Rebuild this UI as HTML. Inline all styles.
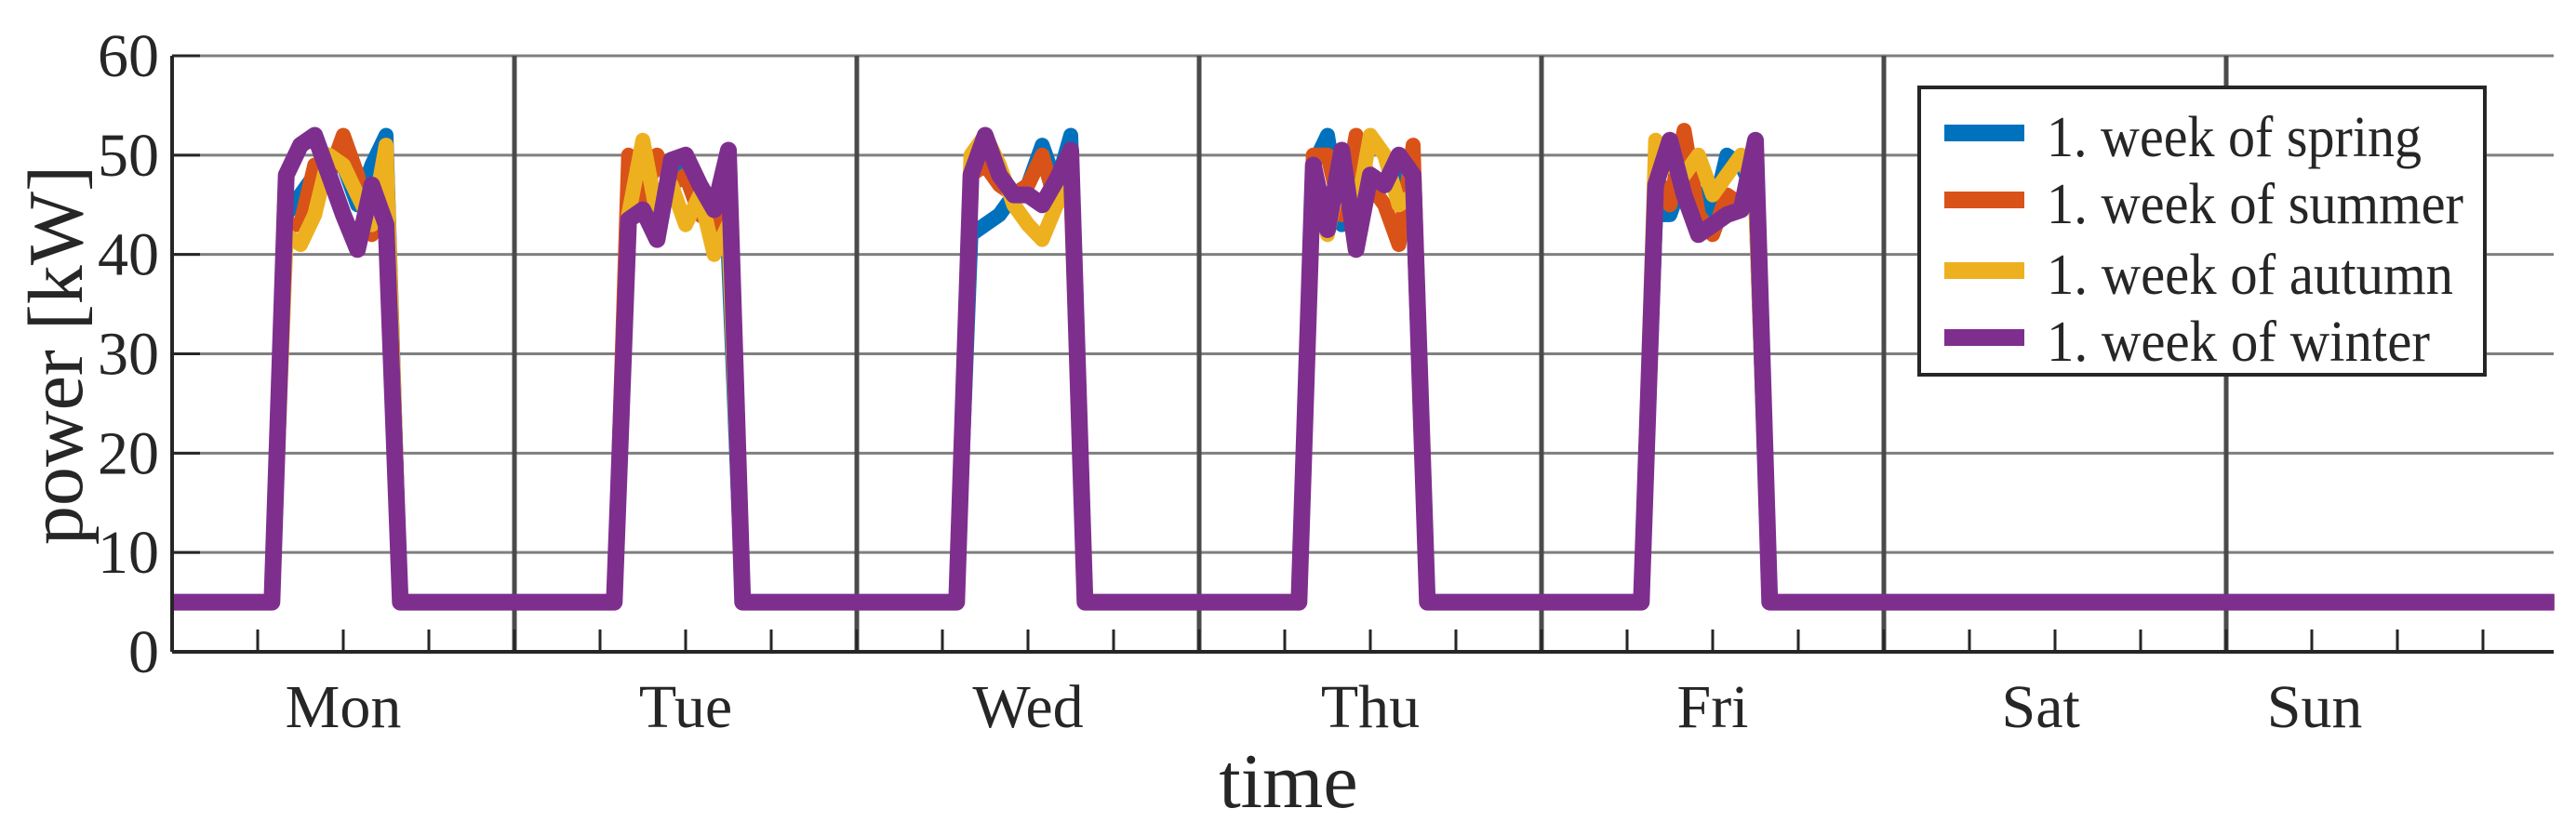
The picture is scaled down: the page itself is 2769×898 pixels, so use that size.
<!DOCTYPE html>
<html><head><meta charset="utf-8"><style>
html,body{margin:0;padding:0;background:#fff;}
svg{display:block;font-family:"Liberation Serif",serif;}
</style></head><body>
<svg id="chart" width="2769" height="898" viewBox="0 0 2769 898" xmlns="http://www.w3.org/2000/svg">
<g id="grid"></g>
<g id="series"></g>
<g id="axes"></g>
<g id="legend"></g>
</svg>
<script>
// ---- data ----
const days = ["Mon","Tue","Wed","Thu","Fri","Sat","Sun"];
const dayLabelHours = [12,36,60,84,108,131,150.2];
const yTicks = [0,10,20,30,40,50,60];
const baseLoad = 5;
const workHours = [8,9,10,11,12,13,14,15];
const springWork = [
 [44,46,48,50,49,45,49,52],
 [44,45,44,48,50,47,44,40],
 [42,43,44,46,47,51,47,52],
 [49,52,43,48,46,47,49,45],
 [44,44,48,46,44,50,49,46]];
const summerWork = [
 [43,43,49,48,52,48,42,51],
 [50,45,50,47,48,44,43,44],
 [48,49,47,46,47,50,45,48],
 [50,50,44,52,47,45,41,51],
 [48,45,52.5,44,42,46,45,47]];
const autumnWork = [
 [42,41,44,50,49,46,43,51],
 [44,51.5,44,47,43,46,40,43],
 [50,52,49,45,43,41.5,45,47],
 [48,42,49,44,52,50,45,46],
 [51.5,49,48,50,46,48,50,46]];
const winterWork = [
 [48,51,52,48,44,40.5,47,43],
 [43.5,44.5,41.5,49.5,50,47,44.5,50.5],
 [48,52,48,46,46,45,47.5,50.5],
 [49,42.5,50.5,40.5,48,47,50,48],
 [47,51.5,46,42,43,44,44.5,51.5]];
const seriesNames = ["1. week of spring","1. week of summer","1. week of autumn","1. week of winter"];
const seriesColors = ["#0072BD","#D95319","#EDB120","#7E2F8E"];
const seriesWork = [springWork, summerWork, autumnWork, winterWork];
const xMaxHour = 167;

// ---- layout ----
const L = 185, R = 2745, T = 60, B = 701;
const dayW = 368;
const xs = h => L + h * dayW / 24;
const ys = v => B - (v / 60) * (B - T);
const NS = "http://www.w3.org/2000/svg";
function mk(tag, attrs, parent){const e=document.createElementNS(NS,tag);for(const k in attrs)e.setAttribute(k,attrs[k]);parent.appendChild(e);return e;}

const grid = document.getElementById('grid');
const axes = document.getElementById('axes');
const seriesG = document.getElementById('series');
const legend = document.getElementById('legend');

yTicks.forEach(v=>{
  if(v===0) return;
  const l = mk('line',{x1:L,x2:R,y1:ys(v),y2:ys(v),stroke:'#7f7f7f','stroke-width':3},grid);
  
  
});
for(let d=1; d<7; d++){
  const l = mk('line',{x1:xs(d*24),x2:xs(d*24),y1:T,y2:B,stroke:'#4a4a4a','stroke-width':5},grid);
  
  
}

seriesWork.forEach((work,si)=>{
  const vals = [];
  for(let h=0; h<=xMaxHour; h++){
    const d = Math.floor(h/24), hr = h%24;
    const idx = workHours.indexOf(hr);
    vals.push(d<work.length && idx>=0 ? work[d][idx] : baseLoad);
  }
  const pts = vals.map((v,h)=>xs(h).toFixed(1)+','+ys(v).toFixed(1)).join(' ');
  const p = mk('polyline',{points:pts,fill:'none',stroke:seriesColors[si],'stroke-width':si===3?18:16,'stroke-linejoin':'round','stroke-linecap':'butt'},seriesG);
  
  
});

const ax1 = mk('line',{x1:L,x2:R,y1:B,y2:B,stroke:'#262626','stroke-width':4},axes);


const ax2 = mk('line',{x1:L,x2:L,y1:T,y2:B,stroke:'#262626','stroke-width':4},axes);



yTicks.forEach(v=>{
  const t = mk('line',{x1:L,x2:L+30,y1:ys(v),y2:ys(v),stroke:'#262626','stroke-width':3},axes);
  
  
  const tx = mk('text',{x:171,y:ys(v)+22,'text-anchor':'end','font-size':66,fill:'#262626'},axes);
  tx.textContent = v;
  
  
});
for(let h=6; h<=xMaxHour; h+=6){
  const t = mk('line',{x1:xs(h),x2:xs(h),y1:B,y2:B-24,stroke:'#262626','stroke-width':3},axes);
  
  
}
days.forEach((d,i)=>{
  const tx = mk('text',{x:xs(dayLabelHours[i]),y:782,'text-anchor':'middle','font-size':66,fill:'#262626'},axes);
  tx.textContent = d;
  
  
});
const xl = mk('text',{x:1385,y:868,'text-anchor':'middle','font-size':84,fill:'#262626'},axes);
xl.textContent = 'time';


const yl = mk('text',{x:0,y:0,'text-anchor':'middle','font-size':84,fill:'#262626',transform:'translate(88,382) rotate(-90)'},axes);
yl.textContent = 'power [kW]';



const box = mk('rect',{x:2063,y:94,width:608,height:309,fill:'#fff',stroke:'#262626','stroke-width':4},legend);


const legY = [143,215,291,363];
const legW = [403,448,437,412];
seriesNames.forEach((n,i)=>{
  const g = mk('g',{},legend);
  
  
  mk('line',{x1:2090,x2:2176,y1:legY[i],y2:legY[i],stroke:seriesColors[i],'stroke-width':18},g);
  const t = mk('text',{x:2200,y:legY[i]+25,'font-size':62,fill:'#262626',textLength:legW[i],lengthAdjust:'spacingAndGlyphs'},g);
  t.textContent = n;
});
</script>
</body></html>
